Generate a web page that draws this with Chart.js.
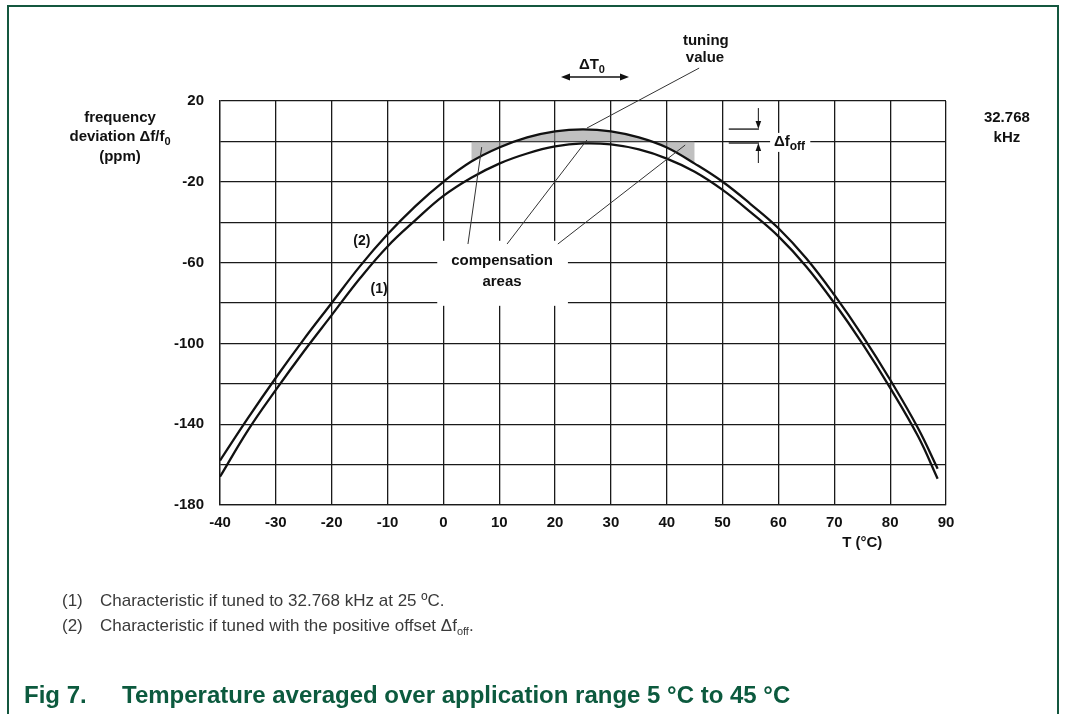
<!DOCTYPE html>
<html>
<head>
<meta charset="utf-8">
<script src="https://cdn.jsdelivr.net/npm/chart.js@4.4.1/dist/chart.umd.min.js"></script>
<style>
  html, body { margin: 0; padding: 0; background: #ffffff; }
  #wrap { position: relative; width: 1066px; height: 714px; overflow: hidden; background: #fff; }
  #chart { position: absolute; left: 0; top: 0; }
  .fl { position: absolute; background: #14573f; }
  .note { position: absolute; font-family: "Liberation Sans Narrow", "Arial Narrow", "Liberation Sans", Arial, sans-serif;
          font-size: 17px; color: #3a3a3a; white-space: nowrap; }
  .note .n { position: absolute; left: 0; }
  .note .t { position: absolute; left: 38px; }
  .title { position: absolute; font-family: "Liberation Sans Narrow", "Arial Narrow", "Liberation Sans", Arial, sans-serif;
           font-weight: bold; font-size: 24px; color: #0c5a3e; white-space: nowrap; }
</style>
</head>
<body>
<div id="wrap">
  <canvas id="chart" width="1066" height="714"></canvas>
  <div class="fl" style="left:7px; top:5px; width:1052px; height:1.5px;"></div>
  <div class="fl" style="left:7px; top:5px; width:1.5px; height:709px;"></div>
  <div class="fl" style="left:1057px; top:5px; width:1.5px; height:709px;"></div>
  <div class="note" style="left:62px; top:591px;"><span class="n">(1)</span><span class="t">Characteristic if tuned to 32.768 kHz at 25 ºC.</span></div>
  <div class="note" style="left:62px; top:616px;"><span class="n">(2)</span><span class="t">Characteristic if tuned with the positive offset Δf<sub style="font-size:11px">off</sub>.</span></div>
  <div class="title" style="left:24px; top:681px;">Fig 7.</div>
  <div class="title" style="left:122px; top:681px;">Temperature averaged over application range 5 °C to 45 °C</div>
</div>
<script>
// ---- data ----
const temperatureC = [-40, -35, -30, -25, -20, -15, -10, -5, 0, 5, 10, 15, 20, 25, 30, 35, 40, 45, 50, 55, 60, 65, 70, 75, 80, 85, 88.5];
// (1) characteristic if tuned to 32.768 kHz at 25 °C
const deviationTuned = [-166, -143, -123, -104, -86, -68, -52, -39, -27, -18, -11, -6, -2.5, -1, -1.5, -4, -8.5, -15, -24, -35, -47, -62, -80, -100, -122, -146, -167];
// (2) characteristic if tuned with the positive offset
const deviationOffset = [-158, -137, -117, -98, -80, -62, -46, -32, -20, -10, -3, 2, 5, 6, 5, 2, -3, -11, -20, -31, -43, -58, -76, -96, -118, -142, -162];
// application (compensation) range
const compensationRange = [5, 45];
// axis ticks
const xTicks = [-40, -30, -20, -10, 0, 10, 20, 30, 40, 50, 60, 70, 80, 90];
const yTickLabels = [20, -20, -60, -100, -140, -180];

const toPoints = (xs, ys) => xs.map((x, i) => ({ x: x, y: ys[i] }));
const compPoints = toPoints(temperatureC, deviationOffset)
  .filter(p => p.x >= compensationRange[0] && p.x <= compensationRange[1]);

const FONT = '"Liberation Sans Narrow", "Arial Narrow", "Liberation Sans", Arial, sans-serif';

function arrowHead(ctx, x, y, dx, dy, len, half) {
  ctx.beginPath();
  ctx.moveTo(x, y);
  ctx.lineTo(x - dx * len - dy * half, y - dy * len + dx * half);
  ctx.lineTo(x - dx * len + dy * half, y - dy * len - dx * half);
  ctx.closePath();
  ctx.fill();
}

const annotations = {
  id: 'annotations',
  afterDatasetsDraw(chart) {
    const ctx = chart.ctx;
    const X = v => chart.scales.x.getPixelForValue(v);
    const Y = v => chart.scales.y.getPixelForValue(v);
    ctx.save();
    ctx.fillStyle = '#111';
    ctx.strokeStyle = '#111';
    ctx.textAlign = 'center';
    ctx.textBaseline = 'middle';

    // white box behind "compensation areas"
    ctx.fillStyle = '#fff';
    ctx.fillRect(X(-1.1), Y(-49.2), X(22.3) - X(-1.1), Y(-81.4) - Y(-49.2));
    // white box behind Δf_off
    ctx.fillRect(X(58.5), Y(4.2), X(65.7) - X(58.5), Y(-5.2) - Y(4.2));
    ctx.fillStyle = '#111';

    const bold = s => 'bold ' + s + 'px ' + FONT;

    // y axis title
    ctx.font = bold(15);
    ctx.fillText('frequency', X(-57.9), Y(11.5));
    {
      const main = 'deviation Δf/f';
      const w1 = ctx.measureText(main).width;
      ctx.font = bold(11);
      const w2 = ctx.measureText('0').width;
      const cx = X(-57.9), cy = Y(2.2);
      const left = cx - (w1 + w2) / 2;
      ctx.textAlign = 'left';
      ctx.font = bold(15);
      ctx.fillText(main, left, cy);
      ctx.font = bold(11);
      ctx.fillText('0', left + w1, cy + 5);
      ctx.textAlign = 'center';
    }
    ctx.font = bold(15);
    ctx.fillText('(ppm)', X(-57.9), Y(-7.6));

    // frequency at right
    ctx.fillText('32.768', X(100.9), Y(11.5));
    ctx.fillText('kHz', X(100.9), Y(1.7));

    // x axis title
    ctx.fillText('T (°C)', X(75), Y(-198.8));

    // ΔT0 with double arrow
    {
      const cx = X(26.6), cy = Y(37.8);
      ctx.font = bold(15);
      const w1 = ctx.measureText('ΔT').width;
      ctx.font = bold(11);
      const w2 = ctx.measureText('0').width;
      const left = cx - (w1 + w2) / 2;
      ctx.textAlign = 'left';
      ctx.font = bold(15);
      ctx.fillText('ΔT', left, cy);
      ctx.font = bold(11);
      ctx.fillText('0', left + w1, cy + 5);
      ctx.textAlign = 'center';
      const ay = Y(31.9), ax1 = X(21.06), ax2 = X(33.24);
      ctx.lineWidth = 1.5;
      ctx.beginPath(); ctx.moveTo(ax1 + 6, ay); ctx.lineTo(ax2 - 6, ay); ctx.stroke();
      arrowHead(ctx, ax1, ay, -1, 0, 9, 3.5);
      arrowHead(ctx, ax2, ay, 1, 0, 9, 3.5);
    }

    // tuning value
    ctx.font = bold(15);
    ctx.fillText('tuning', X(47.0), Y(50));
    ctx.fillText('value', X(46.85), Y(41.3));

    // leader lines
    ctx.lineWidth = 1;
    ctx.strokeStyle = '#333';
    const seg = (a, b, c, d) => { ctx.beginPath(); ctx.moveTo(X(a), Y(b)); ctx.lineTo(X(c), Y(d)); ctx.stroke(); };
    seg(45.8, 36.3, 25.7, 6.6);   // tuning value
    seg(6.86, -2.8, 4.4, -50.8);  // left compensation area
    seg(25.7, 0.7, 11.4, -50.8);  // middle
    seg(43.3, -1.8, 20.5, -50.8); // right

    // compensation areas text
    ctx.fillStyle = '#111';
    ctx.font = bold(15);
    ctx.fillText('compensation', X(10.5), Y(-59.1));
    ctx.fillText('areas', X(10.5), Y(-69.5));

    // curve labels
    ctx.font = bold(14);
    ctx.fillText('(2)', X(-14.6), Y(-49.3));
    ctx.fillText('(1)', X(-11.5), Y(-73));

    // Δf_off marker
    ctx.strokeStyle = '#111';
    ctx.lineWidth = 1.3;
    seg(51.1, 6.1, 56.5, 6.1);
    seg(51.1, -0.8, 56.5, -0.8);
    ctx.lineWidth = 1;
    seg(56.4, 16.5, 56.4, 9);
    arrowHead(ctx, X(56.4), Y(6.1), 0, 1, 8, 2.8);
    seg(56.4, -10.7, 56.4, -3.5);
    arrowHead(ctx, X(56.4), Y(-0.8), 0, -1, 8, 2.8);
    {
      ctx.textAlign = 'left';
      ctx.font = bold(15);
      const x0 = X(59.2), y0 = Y(-0.3);
      ctx.fillText('Δf', x0, y0);
      const w = ctx.measureText('Δf').width;
      ctx.font = bold(12);
      ctx.fillText('off', x0 + w, y0 + 5);
    }
    ctx.restore();
  }
};

new Chart(document.getElementById('chart'), {
  type: 'scatter',
  data: {
    datasets: [
      {
        label: '(2)',
        data: toPoints(temperatureC, deviationOffset),
        showLine: true, borderColor: '#111', borderWidth: 2.3,
        pointRadius: 0, tension: 0.4, fill: false
      },
      {
        label: '(1)',
        data: toPoints(temperatureC, deviationTuned),
        showLine: true, borderColor: '#111', borderWidth: 2.3,
        pointRadius: 0, tension: 0.4, fill: false
      },
      {
        label: 'compensation areas',
        data: compPoints,
        showLine: true, borderWidth: 0, borderColor: 'rgba(0,0,0,0)',
        backgroundColor: 'rgba(150,150,150,0.6)',
        pointRadius: 0, tension: 0.4, fill: { value: 0 }
      }
    ]
  },
  options: {
    responsive: false,
    animation: false,
    events: [],
    layout: { padding: { left: 160, right: 120, top: 101, bottom: 169 } },
    plugins: { legend: { display: false }, tooltip: { enabled: false } },
    scales: {
      x: {
        type: 'linear', min: -40, max: 90,
        afterFit: s => { s.height = 40; },
        afterBuildTicks: s => { s.ticks = xTicks.map(v => ({ value: v })); },
        grid: { color: '#1a1a1a', lineWidth: 1.3, drawTicks: false },
        border: { color: '#1a1a1a', width: 1.3 },
        ticks: { color: '#111', padding: 9, font: { family: FONT, size: 15, weight: 'bold' }, maxRotation: 0 }
      },
      y: {
        type: 'linear', min: -180, max: 20,
        afterFit: s => { s.width = 60; },
        grid: { color: '#1a1a1a', lineWidth: 1.3, drawTicks: false },
        border: { color: '#1a1a1a', width: 1.3 },
        ticks: {
          stepSize: 20, color: '#111', padding: 16,
          font: { family: FONT, size: 15, weight: 'bold' },
          callback: v => yTickLabels.includes(v) ? String(v) : ''
        }
      }
    }
  },
  plugins: [annotations]
});
</script>
</body>
</html>
